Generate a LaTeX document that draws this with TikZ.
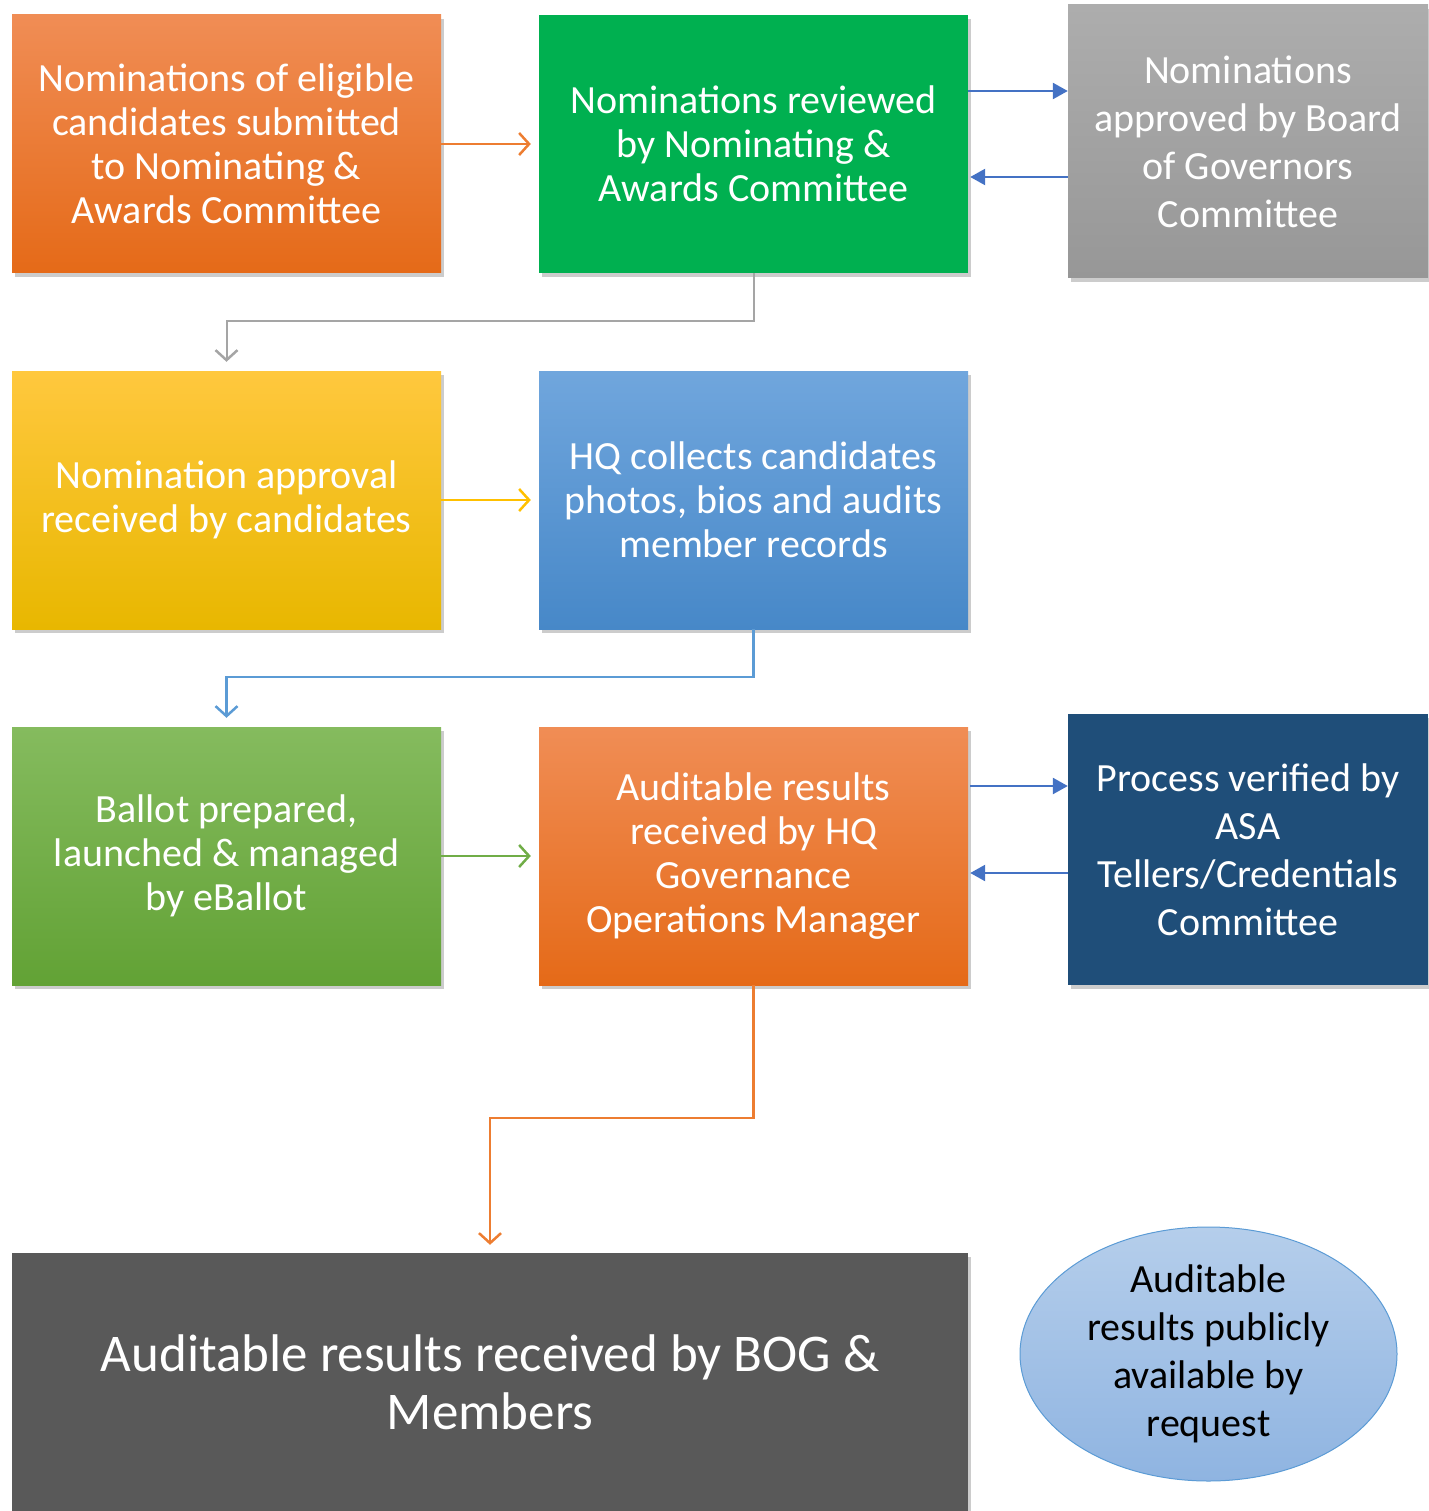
\documentclass[tikz,border=0pt]{standalone}
\usepackage{fontspec}
\setmainfont{Carlito}
\usetikzlibrary{arrows.meta,shadows,shapes.geometric,calc}
\definecolor{orT}{HTML}{F08D55}
\definecolor{orB}{HTML}{E56A18}
\definecolor{grn}{HTML}{00B050}
\definecolor{gyT}{HTML}{ADADAD}
\definecolor{gyB}{HTML}{979797}
\definecolor{ylT}{HTML}{FFC83E}
\definecolor{ylB}{HTML}{E8B700}
\definecolor{blT}{HTML}{70A6DD}
\definecolor{blB}{HTML}{4788C8}
\definecolor{lgT}{HTML}{85BB5E}
\definecolor{lgB}{HTML}{62A235}
\definecolor{dkb}{HTML}{1F4E79}
\definecolor{dkg}{HTML}{595959}
\definecolor{elT}{HTML}{B5CEEB}
\definecolor{elB}{HTML}{8FB4E1}
\definecolor{elD}{HTML}{5B9BD5}
\definecolor{aOr}{HTML}{ED7D31}
\definecolor{aBl}{HTML}{4472C4}
\definecolor{aGy}{HTML}{A5A5A5}
\definecolor{aYl}{HTML}{FFC000}
\definecolor{aLb}{HTML}{5B9BD5}
\definecolor{aGn}{HTML}{70AD47}
\tikzset{
  box/.style={rectangle, inner sep=0pt, text=white, align=center,
    font=\fontsize{40}{44}\selectfont,
    drop shadow={shadow xshift=3pt, shadow yshift=-4pt, opacity=0.2, fill=black}},
  wbox/.style={box, minimum width=429pt, minimum height=258pt},
  sbox/.style={box, minimum width=360pt, font=\fontsize{40}{48}\selectfont},
  open/.style={line width=2.5pt, -{Straight Barb[length=10pt,width=22pt,line width=2.5pt]}},
  fil/.style={line width=2.5pt, aBl, -{Triangle[length=15pt,width=16pt]}},
}
\begin{document}
\begin{tikzpicture}[x=1pt,y=-1pt]
\useasboundingbox (0,0) rectangle (1428,1511);
\node[wbox, top color=orT, bottom color=orB] (n1) at (226.5,144)
  {Nominations of eligible\\candidates submitted\\to Nominating \&\\Awards Committee};
\node[wbox, fill=grn] (n2) at (753.5,144)
  {Nominations reviewed\\by Nominating \&\\Awards Committee};
\node[sbox, minimum height=273pt, top color=gyT, bottom color=gyB] (n3) at (1248,141.5)
  {Nominations\\approved by Board\\of Governors\\Committee};
\node[wbox, top color=ylT, bottom color=ylB] (n4) at (226.5,500)
  {Nomination approval\\received by candidates};
\node[wbox, top color=blT, bottom color=blB] (n5) at (753.5,500)
  {HQ collects candidates\\photos, bios and audits\\member records};
\node[wbox, top color=lgT, bottom color=lgB] (n6) at (226.5,856)
  {Ballot prepared,\\launched \& managed\\by eBallot};
\node[wbox, top color=orT, bottom color=orB] (n7) at (753.5,856)
  {Auditable results\\received by HQ\\Governance\\Operations Manager};
\node[sbox, minimum height=271pt, fill=dkb] (n8) at (1248,849.5)
  {Process verified by\\ASA\\Tellers/Credentials\\Committee};
\node[box, minimum width=956pt, minimum height=258pt, fill=dkg,
  font=\fontsize{53}{58}\selectfont] (n9) at (490,1382)
  {Auditable results received by BOG \&\\Members};
\node[ellipse, inner sep=0pt, minimum width=377pt, minimum height=254pt,
  top color=elT, bottom color=elB, draw=elD, line width=1pt, align=center,
  font=\fontsize{40}{48}\selectfont] (e1) at (1208.5,1354)
  {Auditable\\results publicly\\available by\\request};
% connectors
\draw[open, aOr, shorten >=8pt] (n1.east) -- (n2.west);
\draw[fil] ([yshift=53pt]n2.east) -- ([yshift=53pt]n2.east -| n3.west);
\draw[fil, shorten >=2pt] ([yshift=-33pt]n2.east -| n3.west) -- ([yshift=-33pt]n2.east);
\draw[open, aGy, line width=2pt] (n2.south) -- ++(0,48) -| ([yshift=9pt]n4.north);
\draw[open, aYl, shorten >=8pt] (n4.east) -- (n5.west);
\draw[open, aLb] (n5.south) -- ++(0,48) -| ([yshift=9pt]n6.north);
\draw[open, aGn, shorten >=8pt] (n6.east) -- (n7.west);
\draw[fil, shorten <=2pt] ([yshift=70pt]n7.east) -- ([yshift=70pt]n7.east -| n8.west);
\draw[fil, shorten >=2pt] ([yshift=-17pt]n7.east -| n8.west) -- ([yshift=-17pt]n7.east);
\draw[open, aOr] (n7.south) -- ++(0,133) -| ([yshift=8pt]n9.north);
\end{tikzpicture}
\end{document}
